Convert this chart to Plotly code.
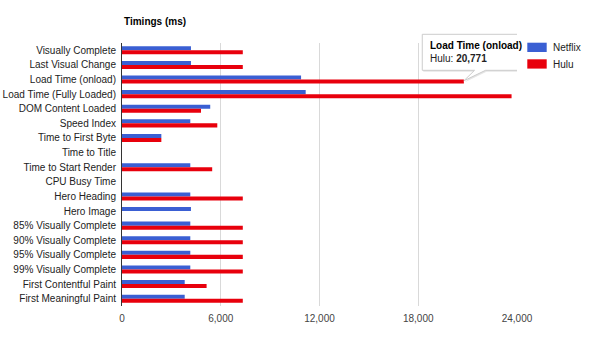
import plotly.graph_objects as go

categories = [
    "Visually Complete", "Last Visual Change", "Load Time (onload)",
    "Load Time (Fully Loaded)", "DOM Content Loaded", "Speed Index",
    "Time to First Byte", "Time to Title", "Time to Start Render",
    "CPU Busy Time", "Hero Heading", "Hero Image",
    "85% Visually Complete", "90% Visually Complete", "95% Visually Complete",
    "99% Visually Complete", "First Contentful Paint", "First Meaningful Paint",
]
netflix = [4190, 4190, 10880, 11160, 5360, 4150, 2390, None, 4150, None,
           4150, 4190, 4150, 4150, 4150, 4150, 3810, 3810]
hulu = [7340, 7340, 20771, 23670, 4800, 5790, 2390, None, 5480, None,
        7340, None, 7340, 7340, 7340, 7340, 5140, 7340]
series_names = ["Netflix", "Hulu"]
series_colors = ["#3a5fd3", "#e8000c"]
x_ticks = [0, 6000, 12000, 18000, 24000]
x_tick_labels = ["0", "6,000", "12,000", "18,000", "24,000"]

FONT = "Arial, 'Liberation Sans', sans-serif"
W, H = 600, 352
L, R, T, B = 122, 83, 43, 46
PW, PH = W - L - R, H - T - B


def py2paper(py):
    return (H - B - py) / PH


def px2paper(px):
    return (px - L) / PW


fig = go.Figure()
for name, vals, col in zip(series_names, [netflix, hulu], series_colors):
    fig.add_trace(go.Bar(
        y=categories, x=vals, name=name, orientation="h",
        marker=dict(color=col, line=dict(width=0)),
        hoverinfo="skip",
    ))

shapes = []
annotations = []

# title
annotations.append(dict(
    text="<b>Timings (ms)</b>", xref="paper", yref="paper",
    x=0, y=py2paper(21.5), xanchor="left", yanchor="middle",
    showarrow=False, font=dict(family=FONT, size=10, color="#000"),
))

# legend (drawn manually)
leg = [(42.7, 52.0, 47.5), (59.3, 68.6, 64.0)]
for (y0, y1, yc), name, col in zip(leg, series_names, series_colors):
    shapes.append(dict(
        type="rect", xref="paper", yref="paper",
        x0=px2paper(527.3), x1=px2paper(546.7),
        y0=py2paper(y1), y1=py2paper(y0),
        fillcolor=col, line=dict(width=0), layer="above",
    ))
    annotations.append(dict(
        text=name, xref="paper", yref="paper",
        x=px2paper(551.0), y=py2paper(yc), xanchor="left", yanchor="middle",
        showarrow=False, font=dict(family=FONT, size=10, color="#222"),
    ))

# tooltip for Hulu / Load Time (onload)
idx = categories.index("Load Time (onload)")
tip_val = hulu[idx]
tip_y = py2paper(80.8)


def tip_path(dx=0.0, dy=0.0):
    pts = [(-41.6, 46.5), (60.0, 46.5), (60.0, 10.5), (21.7, 10.5),
           (0.0, 0.0), (10.7, 10.5), (-41.6, 10.5)]
    s = "M" + " L".join(f"{x + dx:.1f},{y + dy:.1f}" for x, y in pts) + " Z"
    return s


shapes.append(dict(
    type="path", xref="x", yref="paper", xsizemode="pixel", ysizemode="pixel",
    xanchor=tip_val, yanchor=tip_y, path=tip_path(1.0, -1.5),
    fillcolor="rgba(0,0,0,0.10)", line=dict(width=0), layer="above",
))
shapes.append(dict(
    type="path", xref="x", yref="paper", xsizemode="pixel", ysizemode="pixel",
    xanchor=tip_val, yanchor=tip_y, path=tip_path(),
    fillcolor="#ffffff", line=dict(color="#cccccc", width=1), layer="above",
))
annotations.append(dict(
    text=f"<b>{categories[idx]}</b>", xref="x", yref="paper",
    x=tip_val, xshift=-35.5, y=py2paper(45.7), xanchor="left", yanchor="middle",
    showarrow=False, font=dict(family=FONT, size=10, color="#000"),
))
annotations.append(dict(
    text=f"{series_names[1]}: <b>{tip_val:,}</b>", xref="x", yref="paper",
    x=tip_val, xshift=-35.5, y=py2paper(58.3), xanchor="left", yanchor="middle",
    showarrow=False, font=dict(family=FONT, size=10, color="#222"),
))

fig.update_layout(
    width=W, height=H,
    margin=dict(l=L, r=R, t=T, b=B, pad=0, autoexpand=False),
    paper_bgcolor="white", plot_bgcolor="white",
    barmode="group", bargap=0.45, bargroupgap=0,
    showlegend=False,
    hovermode=False,
    font=dict(family=FONT, size=10, color="#222"),
    xaxis=dict(
        range=[0, 24000], tickvals=x_ticks, ticktext=x_tick_labels,
        showgrid=True, gridcolor="#d9d9d9", gridwidth=1,
        zeroline=False, showline=False, ticks="", automargin=False,
        tickfont=dict(family=FONT, size=10, color="#444"),
        ticklabelstandoff=5, fixedrange=True,
    ),
    yaxis=dict(
        autorange="reversed", showgrid=False, zeroline=False,
        showline=True, linecolor="#333", linewidth=1, ticks="",
        automargin=False,
        tickfont=dict(family=FONT, size=10, color="#222"),
        ticklabelstandoff=3, fixedrange=True,
    ),
    shapes=shapes, annotations=annotations,
)

fig.write_html("out.html")
